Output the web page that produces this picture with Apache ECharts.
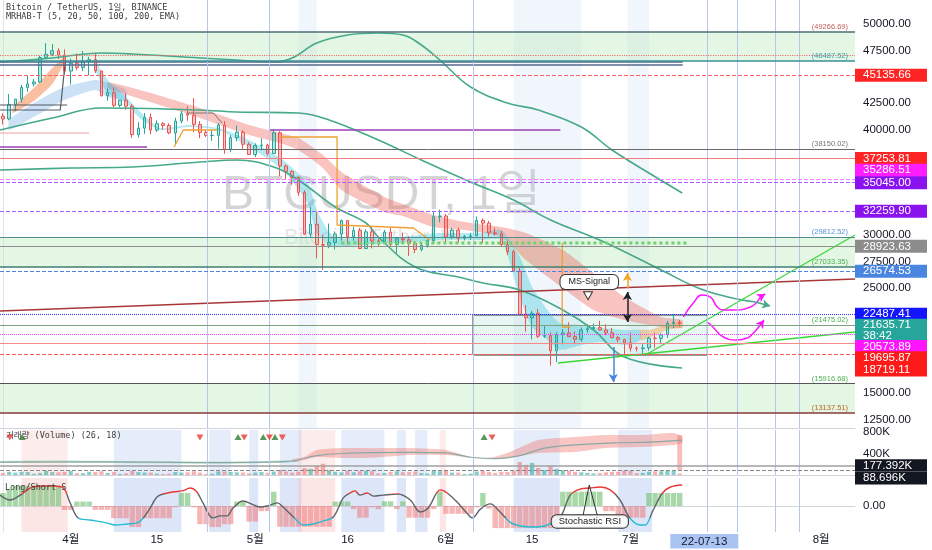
<!DOCTYPE html>
<html><head><meta charset="utf-8">
<script src="https://cdn.jsdelivr.net/npm/echarts@6/dist/echarts.min.js"></script>
<style>html,body{margin:0;padding:0;background:#fff}#c{width:932px;height:550px}</style>
</head><body><div id="c"></div><script>
// ---------------- DATA ----------------
const dates = [];
for (let k = 0; k < 139; k++) { dates.push(new Date(Date.UTC(2022, 2, 21 + k)).toISOString().slice(0, 10)); }
const xTickLabels = {'2022-04-01':'4월','2022-04-15':'15','2022-05-01':'5월','2022-05-16':'16','2022-06-01':'6월','2022-06-15':'15','2022-07-01':'7월','2022-07-13':'22-07-13','2022-08-01':'8월'};
const priceTicks = [12500,15000,25000,27500,30000,40000,42500,47500,50000];
const volumeTicks = [400000, 800000];
// [open, close, low, high]
const ohlc = [
[41262,41002,40467,41544],[41002,42364,40875,43361],[42364,42882,41751,42893],[42882,43991,42560,44220],[43991,44313,43579,45094],[44313,44511,44071,44792],[44511,46827,44421,46999],[46827,47128,46664,48190],[47128,47465,46950,48097],[47465,47063,46675,47700],[47063,45538,45200,47600],
[45538,46281,44255,46720],[46281,45868,45620,47213],[45868,46453,45530,47444],[46453,46622,45118,46890],[46622,45555,45353,47200],[45555,43206,43121,45555],[43206,43503,42727,43900],[43503,42287,42107,43970],[42287,42782,42125,42800],[42782,42207,41868,43410],
[42207,39521,39200,42415],[39521,40127,39254,40700],[40127,41147,39589,41561],[41147,39942,39551,41500],[39942,40552,39766,40870],[40552,40378,39991,40709],[40378,39678,39546,40595],[39678,40801,38536,41116],[40801,41493,40571,41760],[41493,41358,40820,42199],
[41358,40480,39751,42976],[40480,39709,39177,40795],[39709,39441,39285,39980],[39441,39450,38929,39940],[39450,40426,38200,40616],[40426,38112,37702,40797],[38112,39235,37867,39474],[39235,39742,38881,40372],[39742,38596,38175,39925],[38596,37630,37578,38795],
[37630,38468,37386,38675],[38468,38525,38052,39167],[38525,37728,37517,38651],[37728,39690,37670,40023],[39690,36552,35571,39845],[36552,36014,35258,36675],[36014,35468,34785,36146],[35468,34038,33713,35510],[34038,30076,30033,34243],[30076,31017,29730,32658],
[31017,29103,27785,32190],[29103,29030,26700,30033],[29030,29287,28751,31083],[29287,30080,28630,30343],[30080,31370,29480,31460],[31370,29862,29087,31370],[29862,30425,29450,30788],[30425,28716,28654,30662],[28716,30297,28693,30545],[30297,29445,28730,30777],
[29445,29388,28947,29648],[29388,30284,29255,30487],[30284,29102,28866,30672],[29102,29653,28260,29834],[29653,29542,29294,30223],[29542,29201,28019,29872],[29201,28629,28282,29397],[28629,29031,28450,29250],[29031,29468,28809,29588],[29468,31734,29299,32222],[31734,31801,31200,32399],
[31801,29805,29301,31982],[29805,30452,29594,30690],[30452,29700,29282,30700],[29700,29865,29485,29995],[29865,29920,29531,30189],[29920,31374,29880,31765],[31374,31125,29218,31570],[31125,30204,29843,31330],[30204,30110,29944,30700],[30110,29092,28850,30386],
[29092,28425,28097,29447],[28425,26575,26560,28590],[26575,22488,22400,26895],[22488,22136,20846,23363],[22136,22584,20111,22800],[22584,20401,20232,22995],[20401,20469,20246,21365],[20469,19018,17622,20761],[19018,20554,17960,20815],[20554,20720,19637,21090],
[20720,20360,20348,21723],[20360,20107,19770,20866],[20107,21005,19892,21233],[21005,21113,20726,21523],[21113,21225,20909,21611],[21225,20993,20960,21870],[20993,20733,20500,21540],[20733,20280,20190,21196],[20280,20105,19845,20430],[20105,19785,18626,20165],
[19785,19270,18966,20750],[19270,19242,18975,19430],[19242,19298,18781,19650],[19298,20231,19040,20364],[20231,20191,19305,20735],[20191,20548,19764,20675],[20548,21637,20238,21839],[21637,21732,21189,22527],[21732,21635.71,21320,21950]
];
const volumeK = [40,60,45,60,55,25,40,80,55,50,60,
75,35,35,60,55,70,40,60,20,30,75,55,45,45,25,20,25,55,45,50,70,45,20,25,65,65,55,50,45,30,
45,55,40,65,95,65,45,60,130,115,170,210,90,60,50,80,50,70,75,70,30,40,60,70,50,60,65,35,30,80,70,
75,45,45,20,25,65,75,55,35,60,55,75,240,190,225,130,90,170,110,90,80,60,50,40,30,35,50,60,60,80,
75,35,40,60,70,70,75,75,30];
const boxLevels = [45135.66,37253.81,35286.51,35045.00,32259.90,28923.63,26574.53,22487.41,21635.71,20573.89,19695.87,18719.11];
const noteLevels = [49266.69,46487.52,38150.02,29812.52,27033.35,21475.02,15916.68,13137.51];
const volumeLevels = [177392, 88696];
// ribbons [dayIndex, upper, lower]
const orangeBand = [[1.6,42132,41564],[5,43934,42701],[8,45829,44313],[10,46872,46398]];
const cyanBand = [[15,46398,45640],[17,44692,43460],[20,43080,42512],[22,41848,41184],[25.5,40142,39952],[30,40426,40237],[35,40142,39952],[40,39005,38341],[45.5,37109,36160],[49.5,34928,33032],[51,32369,30189],[53.7,29810,28862],[58,29715,29052],[64.5,29810,29241],[71,30189,29526],[77.5,30189,29526],[81,30473,29526],[84,27914,24122],[86,25071,21279],[88.5,22891,20047],[90.5,21658,19099],[94,21469,19573],[97,21184,19858],[101.5,20995,19573],[103.6,20995,20047]];
const orangeBand2 = [[103.6,20995,20047],[105,20995,20237],[108,21469,20995],[110.4,21753,21279]];
const blueBand = [[1,40900,39952],[5,42512,41184],[10,44028,42796],[15,44692,43744],[17,44407,43080],[20,43744,42796]];
const pinkBand = [[17,44502,43934],[24,43460,42606],[32,42038,41090],[40,40426,39478],[45,39668,38720],[48,39194,38057],[52,37583,36350],[55,35971,34265],[62,33601,32179],[65,32938,31800],[70,31895,30757],[75,31231,30473],[81,30757,29810],[85,30189,27630],[91,28578,24976],[96,26398,22891],[101,24122,21942],[107,22227,21279],[110.4,21942,21184]];
const upperGreen = [[-0.5,46398],[8,46777],[16,47251],[21,47156],[32,46777],[38,46588],[44,46398],[47,46777],[51,48199],[56,48957],[61,49147],[65,48957],[68,48009],[71,46588],[76,44028],[82,42512],[87,41848],[94,40237],[99,38056],[105,35876],[110.4,33980]];
const midGreen = [[-0.5,39952],[8,41090],[16,42038],[32,41848],[38,41658],[48,41564],[53,40900],[61,39005],[68,37109],[76,35023],[83,33317],[89,31421],[97,29526],[107,26682],[113,24976],[118,24100],[122.3,23649]];
const lowerGreen = [[-0.5,36160],[11,36350],[21,36445],[32,36919],[38,37109],[44,36445],[48,35213],[54,32653],[59,31137],[61,29810],[67,26966],[74,26019],[78,25450],[84,24786],[91,22891],[96,20995],[101,18436],[110.4,17393]];
const signalLine1 = [[27.8,38341],[29.3,39952],[34.8,39952]];
const signalLine2 = [[45,39289],[54.3,39289],[54.3,30947],[66.7,30663],[69.4,29526]];
const signalLine3 = [[90.9,29241],[90.9,21279],[92.2,21279]];
const grayStepA = [[-0.5,42322],[10.4,42322]];
const grayStepB = [[-0.5,41848],[9.3,41848],[10.1,46398]];
const grayStepC = [[29.9,41564],[34.2,41564],[35.6,40615]];
const upperPairLines = [46398, 46114];
const redDotted = 47062;
const purpleSeg1 = [[-0.5,38341],[23.4,38341]];
const purpleSeg2 = [[43.4,39952],[90.6,39952]];
const paleRedSeg = [[-0.5,39668],[14,39668]];
const greenDots = [[55,29241],[111.5,29241]];
const redTrend = [[-0.5,22796],[138.5,25829]];
const greenTrendSteep = [[104.4,18624],[138.5,30000]];
const greenTrendFlat = [[90.2,17866],[138.5,20805]];
const zoneBox = [[76.4,22417],[114.5,18625]];
const magentaUp = [[110.6,22227],[112.2,23554],[113.7,24312],[115,24122],[116.1,23175],[117.1,22891],[118.7,22891],[121.5,23175],[123.1,24122],[123.9,24407]];
const magentaDown = [[114.5,21753],[115.4,21279],[117.1,20331],[119.3,20047],[121,20237],[122,20710],[123.1,21469],[123.7,21942]];
const arrowUp = [[101.5,24976],[101.5,26398]];
const arrowBoth = [[101.5,24596],[101.5,21752]];
const arrowDown = [[99.2,19383],[99.2,16066]];
const msSignalAt = [95.3,25545];
const msPointerAt = [95.1,24250];
const verticalLines = [33.2,43.3,76.4,114.5,119.3,125.5,129.4];
const mainBands = [[48,51],[83,94],[101.5,105]];
const lowerBands = [[18,29],[33.5,37],[40,41.5],[45,48.5],[55,62],[64,65.5],[67,69],[83,90.5],[100,105.5]];
const pinkLowerBands = [[3,10.5],[71,72],[48,54]];
const volBandGreen = [[-0.5,260000,225000],[8,270000,230000],[16,265000,225000],[24,255000,220000],[32,250000,215000],[40,250000,215000],[48,280000,240000]];
const volBandPink = [[47,290000,245000],[49,335000,280000],[51,465000,335000],[55,502000,316000],[60,500000,320000],[66,502000,372000],[72,465000,372000],[76,335000,320000],[79,316000,300000],[82,409000,316000],[87,651000,409000],[93,707000,428000],[98,744000,502000],[104,744000,521000],[109,781000,558000],[110.4,707000,595000]];
const volMid = [[-0.5,240000],[16,245000],[32,232000],[46,250000],[51,360000],[55,400000],[66,420000],[72,410000],[76,330000],[80,305000],[84,360000],[88,500000],[93,560000],[100,600000],[105,610000],[110.4,650000]];
const volSpike = [[109.6,90000],[110.4,744000]];
const triUp = [[3.1,707000],[38.2,707000],[42.3,707000],[44.2,707000],[78.2,707000]];
const triDown = [[1.1,700000],[32,700000],[39.2,700000],[43.3,700000],[45.4,700000],[79.5,700000]];
const stochHist = [50,65,78,78,78,78,78,78,78,78,-15,-15,17,17,17,-15,-15,-15,-47,-47,-47,-81,-81,-47,-47,-47,-47,-47,-5,50,50,-5,-70,-70,-81,-81,-70,-70,17,17,-60,-60,-20,-20,55,-80,-80,-80,-80,-80,-80,-80,-80,-80,17,17,17,-12,-45,-45,-5,-12,18,18,-12,18,-45,-45,-45,-45,-12,55,-30,-30,-30,-30,-30,-5,50,-10,-85,-85,-85,-85,-85,-85,-85,-85,-85,-85,-85,55,55,55,55,55,55,55,-20,-20,-45,-45,-45,-45,-45,50,50,50,50,50,50];
const stochLine = [[-0.5,42],[1.1,23],[2.8,42],[4.4,69],[6,77],[8.1,77],[9.8,69],[10.9,12],[12.2,-46],[14.1,-54],[16.3,-62],[18.2,-73],[20.2,-69],[21.8,-65],[22.8,-46],[23.9,-8],[25.2,38],[27.6,54],[29.1,58],[30.4,69],[31.5,54],[32.5,12],[34.1,-46],[35.3,-38],[36.4,-38],[37.4,-8],[39,19],[40.7,4],[41.8,-4],[42.9,0],[44.6,12],[45.5,-4],[47.2,-42],[48.8,-73],[50.4,-69],[52,-58],[53.7,-42],[55.3,31],[56.4,50],[57.2,58],[58,42],[59.2,50],[60.2,38],[61.8,42],[64.2,46],[66.2,23],[67.8,-23],[69.1,-8],[71.1,62],[72.2,50],[73.8,15],[75.4,-27],[76.3,-46],[77.6,-12],[79.2,8],[80.8,-23],[82.4,-62],[84.1,-77],[86.2,-81],[88.5,-73],[90.6,-42],[92.2,42],[93.8,65],[95.4,69],[97.1,73],[98.7,62],[100.3,23],[101.9,-46],[103.6,-73],[104.4,-73],[105.7,-15],[107.2,50],[108.5,73],[110.4,81]];
const stochNotePointer = [[94.3,-35],[95.3,81],[96.6,-35]];
const stochNoteAt = [95.4,-60];

// ---------------- STYLES ----------------
const FONT = 'Liberation Sans, Arial, Noto Sans CJK KR, sans-serif';
const MONO = 'DejaVu Sans Mono, Noto Sans CJK KR, monospace';
const CLEAR = 'rgba(0,0,0,0)';
const boxStyle = [
 {bg:'#ff2424', line:'#ff6060', type:'dashed', dy:0},
 {bg:'#ff2424', line:'#f27a7a', type:'solid', dy:0},
 {bg:'#ff1cff', line:'#ff7bff', type:'dashed', dy:-9},
 {bg:'#8a12ee', line:'#a95cff', type:'dashed', dy:1},
 {bg:'#8a12ee', line:'#a95cff', type:'dashed', dy:0},
 {bg:'#8c8c8c', line:'#8f8f8f', type:'solid', dy:0},
 {bg:'#4a86e0', line:'#4a86e0', type:'dashed', dy:0},
 {bg:'#1414ff', line:'#3030ff', type:'dotted', dy:0},
 {bg:'#26a69a', line:CLEAR, type:'dotted', dy:7, extra:'38:42'},
 {bg:'#ff14ff', line:'#ff40ff', type:'dotted', dy:12},
 {bg:'#ff1a1a', line:'#f48a8a', type:'solid', dy:14},
 {bg:'#ff1a1a', line:'#ff5a5a', type:'dashed', dy:16}
];
const noteStyle = [
 {text:'#c0605a', line:'#4f6f7a', w:1.5},{text:'#3a9ea5', line:'#3a8f99', w:1.5},{text:'#777', line:'#6a6a6a', w:1},
 {text:'#5b8fd6', line:'#4f8f8f', w:1.2},{text:'#4caf50', line:'#3b7f6f', w:1.5},{text:'#4caf50', line:'#7fa07f', w:1.2},
 {text:'#4caf50', line:'#555', w:1},{text:'#b5651d', line:'#8b3a3a', w:1.5}
];

const levelLines = [];
boxLevels.forEach((v, k) => {
  const s = boxStyle[k];
  levelLines.push({yAxis: v, lineStyle:{color:s.line, type:s.type, width:1},
    label:{show:true, position:'end', distance:0, offset:[0, s.dy], formatter: v.toFixed(2) + (s.extra ? '\n' + s.extra : ''),
      backgroundColor:s.bg, color:'#fff', fontSize:11.5, fontFamily:FONT, lineHeight: s.extra ? 11 : 12,
      padding:[1,6,0,8], width:58, align:'left'}});
});
noteLevels.forEach((v, k) => {
  const s = noteStyle[k];
  levelLines.push({yAxis: v, lineStyle:{color:s.line, type:'solid', width:s.w},
    label:{show:true, position:'insideEndTop', distance:[7,1], formatter:'(' + v.toFixed(2) + ')', color:s.text, fontSize:7.5, fontFamily:FONT}});
});
levelLines.push({yAxis: redDotted, lineStyle:{color:'#f07070', type:'dotted', width:1.2}, label:{show:false}});

const zones = [[noteLevels[0], noteLevels[1]], [noteLevels[3], noteLevels[4]], [noteLevels[6], noteLevels[7]]]
  .map(p => [{yAxis:p[0]}, {yAxis:p[1]}]);

function band(points, color, xi, yi, z) {
  return {type:'custom', xAxisIndex:xi, yAxisIndex:yi, z:z, silent:true, clip:true, data:points, encode:{x:0, y:[1,2]},
    renderItem:(params, api) => {
      if (params.dataIndex !== 0) return null;
      const top = points.map(p => api.coord([p[0], p[1]]));
      const bot = points.slice().reverse().map(p => api.coord([p[0], p[2]]));
      return {type:'polygon', shape:{points: top.concat(bot), smooth:0.2}, style:{fill:color}};
    }};
}
function line(data, color, width, type, extra) {
  return Object.assign({type:'line', xAxisIndex:1, yAxisIndex:0, data:data, symbol:'none', silent:true, animation:false, z:4,
    lineStyle:{color:color, width:width, type:type || 'solid'}}, extra || {});
}
function arrow(pts, color, syms, xi, yi) {
  return {type:'line', xAxisIndex:xi || 1, yAxisIndex:yi || 0, data:pts, symbol:'none', silent:true, z:6, lineStyle:{width:0, color:CLEAR},
    markLine:{silent:true, animation:false, symbol:syms, symbolSize:[7,8], label:{show:false}, lineStyle:{color:color, width:1.5, type:'solid'},
      data:[[{coord:pts[pts.length-2]}, {coord:pts[pts.length-1]}]]}};
}
function vBands(list, color, xi, yi) {
  return {type:'line', xAxisIndex:xi, yAxisIndex:yi, data:[], silent:true, z:0,
    markArea:{silent:true, itemStyle:{color:color}, data: list.map(b => [{xAxis:b[0]}, {xAxis:b[1]}])}};
}
function vLines(xi, yi) {
  return {type:'line', xAxisIndex:xi, yAxisIndex:yi, data:[], silent:true, z:1,
    markLine:{silent:true, symbol:['none','none'], label:{show:false}, lineStyle:{color:'#b7c6ec', width:1, type:'solid'},
      data: verticalLines.map(x => ({xAxis:x}))}};
}

const series = [];
series.push(vBands(mainBands, 'rgba(180,200,240,0.18)', 1, 0));
series.push(vBands(lowerBands, 'rgba(180,200,240,0.35)', 3, 1));
series.push(vBands(pinkLowerBands, 'rgba(245,180,180,0.25)', 3, 1));
series.push(vBands(lowerBands, 'rgba(180,200,240,0.45)', 5, 2));
series.push(vBands(pinkLowerBands, 'rgba(245,180,180,0.35)', 5, 2));
series.push(vLines(1,0)); series.push(vLines(3,1)); series.push(vLines(5,2));
series.push(band(blueBand, 'rgba(110,165,230,0.35)', 1, 0, 1));
series.push(band(pinkBand, 'rgba(240,105,95,0.4)', 1, 0, 1));
series.push(band(cyanBand, 'rgba(60,200,220,0.38)', 1, 0, 1));
series.push(band(orangeBand, 'rgba(245,125,65,0.5)', 1, 0, 1));
series.push(band(orangeBand2, 'rgba(245,160,80,0.45)', 1, 0, 1));
series.push({type:'candlestick', xAxisIndex:0, yAxisIndex:0, data:ohlc, barMaxWidth:4.5, z:3, silent:true,
  itemStyle:{color:'rgba(38,166,154,0.3)', color0:'rgba(239,83,80,0.3)', borderColor:'#26a69a', borderColor0:'#ef5350', borderWidth:1},
  markLine:{silent:true, animation:false, symbol:['none','none'], data:levelLines},
  markArea:{silent:true, itemStyle:{color:'rgba(190,235,190,0.42)'}, data:zones}});
series.push(line(upperGreen, '#45a98a', 1.6, 'solid', {smooth:0.4}));
series.push(line(midGreen, '#45a98a', 1.6, 'solid', {smooth:0.4}));
series.push(line(lowerGreen, '#45a98a', 1.6, 'solid', {smooth:0.4}));
series.push(arrow([[122.3,23649],[124.7,23270]], '#45a98a', ['none','arrow']));
series.push(line(signalLine1, '#f0a030', 1.3));
series.push(line(signalLine2, '#f0a030', 1.3));
series.push(line(signalLine3, '#f0a030', 1.3));
series.push(line(grayStepA, '#555a66', 1.2));
series.push(line(grayStepB, '#555a66', 1.2));
series.push(line(grayStepC, '#777', 1));
upperPairLines.forEach(v => series.push(line([[-0.5,v],[110.5,v]], '#56698c', 1.3)));
series.push(line(purpleSeg1, '#9b3fb5', 1.3));
series.push(line(purpleSeg2, '#9b3fb5', 1.3));
series.push(line(paleRedSeg, '#f0a0a0', 1));
series.push(line(greenDots, '#6fd16f', 3, 'dotted'));
series.push(line(redTrend, '#a83636', 1.5));
series.push(line(greenTrendSteep, '#39d839', 1.3));
series.push(line(greenTrendFlat, '#39d839', 1.3));
series.push({type:'line', xAxisIndex:1, yAxisIndex:0, data:[], silent:true, z:2,
  markArea:{silent:true, itemStyle:{color:'rgba(150,215,205,0.22)', borderColor:'#333', borderWidth:1},
    data:[[{coord:zoneBox[0]},{coord:zoneBox[1]}]]}});
series.push(line(magentaUp.slice(0,-1), '#ff14ff', 1.5, 'solid', {smooth:0.5}));
series.push(arrow(magentaUp.slice(-2), '#ff14ff', ['none','arrow']));
series.push(line(magentaDown.slice(0,-1), '#ff14ff', 1.5, 'solid', {smooth:0.5}));
series.push(arrow(magentaDown.slice(-2), '#ff14ff', ['none','arrow']));
series.push(arrow(arrowUp, '#f5a623', ['none','arrow']));
series.push(arrow(arrowBoth, '#222', ['arrow','arrow']));
series.push(arrow(arrowDown, '#4a86e0', ['none','arrow']));
series.push({type:'line', xAxisIndex:1, yAxisIndex:0, data:[], silent:true, z:8,
  markPoint:{silent:true, animation:false, data:[
    {coord:msPointerAt, symbol:'triangle', symbolRotate:180, symbolSize:[9,8], itemStyle:{color:'#fff', borderColor:'#333', borderWidth:1}, label:{show:false}},
    {coord:msSignalAt, symbol:'rect', symbolSize:2, itemStyle:{color:CLEAR, borderWidth:0},
      label:{show:true, position:'inside', formatter:'MS-Signal', backgroundColor:'#fff', borderColor:'#333', borderWidth:1, borderRadius:5,
        padding:[3,8,2,8], color:'#222', fontSize:9, fontFamily:FONT}}]}});
series.push(band(volBandGreen, 'rgba(120,205,150,0.45)', 3, 1, 1));
series.push(band(volBandPink, 'rgba(240,110,100,0.38)', 3, 1, 1));
series.push({type:'line', xAxisIndex:3, yAxisIndex:1, data:volMid, symbol:'none', smooth:0.4, silent:true, z:3, lineStyle:{color:'#8aa7a4', width:1.2}});
series.push({type:'line', xAxisIndex:3, yAxisIndex:1, data:[], silent:true, z:2,
  markArea:{silent:true, itemStyle:{color:'rgba(240,110,110,0.45)'}, data:[[{coord:volSpike[0]},{coord:volSpike[1]}]]}});
series.push({type:'bar', xAxisIndex:2, yAxisIndex:1, silent:true, z:3, barMaxWidth:4.5,
  data: volumeK.map((v, k) => ({value: v * 1000, itemStyle:{color: ohlc[k][1] >= ohlc[k][0] ? 'rgba(38,166,154,0.55)' : 'rgba(239,83,80,0.45)'}})),
  markLine:{silent:true, animation:false, symbol:['none','none'], data: volumeLevels.map((v, k) => ({yAxis:v,
    lineStyle:{color: k === 0 ? '#a0a0a0' : '#888', width: k === 0 ? 1.5 : 1, type: k === 0 ? 'solid' : 'dashed'},
    label:{show:true, position:'end', distance:0, offset:[0, k === 0 ? 0 : 8], formatter:(v/1000).toFixed(3) + 'K', backgroundColor:'#131722', color:'#fff',
      fontSize:11.5, fontFamily:FONT, padding:[1,6,0,8], width:58, align:'left'}}))}});
series.push({type:'scatter', xAxisIndex:3, yAxisIndex:1, data:triUp, symbol:'triangle', symbolSize:[7,6], itemStyle:{color:'#2e7d32'}, silent:true, z:6});
series.push({type:'scatter', xAxisIndex:3, yAxisIndex:1, data:triDown, symbol:'triangle', symbolRotate:180, symbolSize:[7,6], itemStyle:{color:'#e53935'}, silent:true, z:6});
series.push({type:'bar', xAxisIndex:4, yAxisIndex:2, silent:true, z:2, barCategoryGap:'12%',
  data: stochHist.map(v => ({value:v, itemStyle:{color: v >= 0 ? 'rgba(110,190,110,0.6)' : 'rgba(240,110,110,0.5)'}}))});
const stochIdx = series.length;
series.push({type:'line', xAxisIndex:5, yAxisIndex:2, data:stochLine, symbol:'none', smooth:0.35, silent:true, z:4, lineStyle:{width:1.4}});
series.push({type:'line', xAxisIndex:5, yAxisIndex:2, data:stochNotePointer, symbol:'none', silent:true, z:5, lineStyle:{color:'#333', width:1},
  markPoint:{silent:true, animation:false, data:[{coord:stochNoteAt, symbol:'rect', symbolSize:2, itemStyle:{color:CLEAR, borderWidth:0},
    label:{show:true, position:'inside', formatter:'Stochastic RSI', backgroundColor:'rgba(255,255,255,0.85)', borderColor:'#333', borderWidth:1, borderRadius:5,
      padding:[2,7,1,7], color:'#222', fontSize:9.5, fontFamily:FONT}}]}});

const monoTitle = (text, left, top) => ({text, left, top, padding:0, textStyle:{fontFamily:MONO, fontSize:8.5, color:'#3c3c3c', fontWeight:'normal'}});
const option = {
  animation:false,
  backgroundColor:'#ffffff',
  title:[
    monoTitle('Bitcoin / TetherUS, 1일, BINANCE', 6, 4),
    monoTitle('MRHAB-T (5, 20, 50, 100, 200, EMA)', 6, 13),
    {text:'BTCUSDT, 1일', left:222, top:172, padding:0, z:0, textStyle:{fontFamily:FONT, fontSize:48, color:'rgba(0,0,0,0.17)', fontWeight:'normal'}},
    {text:'Bitcoin / TetherUS', left:284, top:227, padding:0, z:0, textStyle:{fontFamily:FONT, fontSize:22, color:'rgba(0,0,0,0.1)', fontWeight:'normal'}},
    monoTitle('거래량 (Volume) (26, 18)', 6, 432),
    monoTitle('Long/Short S', 5, 484)
  ],
  visualMap:{show:false, type:'piecewise', seriesIndex:stochIdx, dimension:1,
    pieces:[{gte:45, color:'#e53935'},{lte:-45, color:'#22bcd4'},{gt:-45, lt:45, color:'#5f6368'}]},
  grid:[
    {left:0, right:77, top:0, height:428, containLabel:false, outerBoundsMode:'none'},
    {left:0, right:77, top:430, height:45, containLabel:false, outerBoundsMode:'none'},
    {left:0, right:77, top:478, height:54, containLabel:false, outerBoundsMode:'none'}
  ],
  xAxis:[
    {type:'category', gridIndex:0, data:dates, boundaryGap:true, axisLabel:{show:false}, axisTick:{show:false}, splitLine:{show:false}, axisLine:{show:true, lineStyle:{color:'#d1d4dc'}}},
    {type:'value', gridIndex:0, min:-0.5, max:138.5, show:false},
    {type:'category', gridIndex:1, data:dates, boundaryGap:true, axisLabel:{show:false}, axisTick:{show:false}, splitLine:{show:false}, axisLine:{show:true, lineStyle:{color:'#d1d4dc'}}},
    {type:'value', gridIndex:1, min:-0.5, max:138.5, show:false},
    {type:'category', gridIndex:2, data:dates, boundaryGap:true, axisTick:{show:false}, splitLine:{show:false}, axisLine:{show:true, lineStyle:{color:'#d1d4dc'}},
      axisLabel:{interval:0, margin:2, fontSize:11.5, color:'#131722', fontFamily:FONT,
        formatter:(v) => { const t = xTickLabels[v]; if (!t) return ''; return v === '2022-07-13' ? '{hl|' + t + '}' : t; },
        rich:{hl:{backgroundColor:'#a9c4f3', color:'#131722', padding:[2,11,1,11], fontSize:11.5, fontFamily:FONT}}}},
    {type:'value', gridIndex:2, min:-0.5, max:138.5, show:false}
  ],
  yAxis:[
    {type:'value', gridIndex:0, position:'right', min:11706, max:52275, splitLine:{show:false}, axisTick:{show:false},
      axisLine:{show:true, lineStyle:{color:'#e0e3eb'}},
      axisLabel:{customValues:priceTicks, formatter:(v) => v.toFixed(2), fontSize:11.5, color:'#131722', fontFamily:FONT, margin:8}},
    {type:'value', gridIndex:1, position:'right', min:0, max:837209, splitLine:{show:false}, axisTick:{show:false},
      axisLine:{show:true, lineStyle:{color:'#e0e3eb'}},
      axisLabel:{customValues:volumeTicks, formatter:(v) => (v/1000) + 'K', fontSize:11.5, color:'#131722', fontFamily:FONT, margin:8}},
    {type:'value', gridIndex:2, position:'right', min:-100, max:107.7, splitLine:{show:false}, axisTick:{show:false},
      axisLine:{show:true, lineStyle:{color:'#e0e3eb'}},
      axisLabel:{customValues:[0], formatter:(v) => v.toFixed(2), fontSize:11.5, color:'#131722', fontFamily:FONT, margin:8}}
  ],
  series:series
};
const chart = echarts.init(document.getElementById('c'), null, {renderer:'canvas'});
chart.setOption(option);
</script></body></html>
